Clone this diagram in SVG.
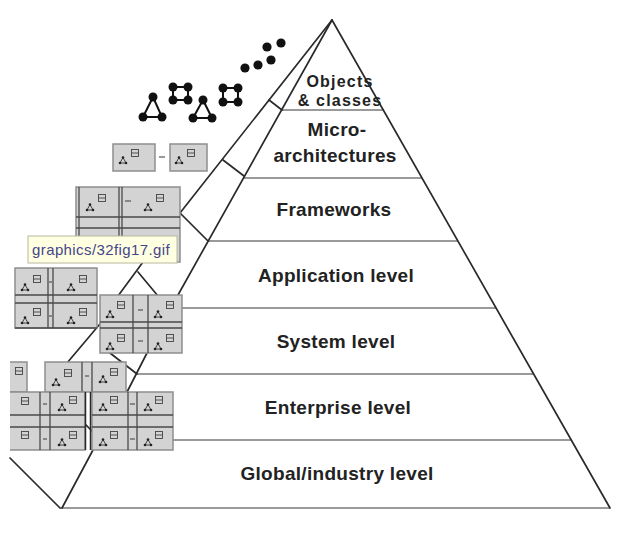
<svg xmlns="http://www.w3.org/2000/svg" xmlns:xlink="http://www.w3.org/1999/xlink" width="622" height="548" viewBox="0 0 622 548">
  <style>
    .box { fill: #d3d3d3; stroke: #8e8e8e; stroke-width: 1.5; }
    .grid { stroke: #4a4a4a; stroke-width: 1.3; fill: none; }
    .dash { stroke: #555; stroke-width: 1.2; }
    .edge { stroke: #2a2a2a; stroke-width: 1.7; fill: none; stroke-linecap: round; }
    .level { stroke: #9a9a9a; stroke-width: 2; fill: none; }
    .label { font-family: "Liberation Sans", Arial, sans-serif; font-weight: bold; font-size: 19px; fill: #222; text-anchor: middle; letter-spacing: 0.3px; }
    .small { font-size: 16px; letter-spacing: 1.2px; }
    .dot { fill: #111; }
    .bond { stroke: #111; stroke-width: 2; }
    .tip { fill: #ffffe1; stroke: #b8b8a0; stroke-width: 1; }
    .tiptext { font-family: "Liberation Sans", Arial, sans-serif; font-size: 15px; fill: #45458c; letter-spacing: 0.4px; }
  </style>
  <defs>
    <!-- tiny pattern icons used inside the cells -->
    <g id="tri">
      <path d="M0,-3.5 L-3,2 L3,2 Z" fill="none" stroke="#333" stroke-width="0.9"/>
      <circle cx="0" cy="-3.5" r="1.3" fill="#222"/>
      <circle cx="-3" cy="2" r="1.3" fill="#222"/>
      <circle cx="3" cy="2" r="1.3" fill="#222"/>
    </g>
    <g id="sq">
      <rect x="-3.5" y="-3.5" width="7" height="7" fill="none" stroke="#444" stroke-width="0.9"/>
      <line x1="-3.5" y1="0" x2="3.5" y2="0" stroke="#444" stroke-width="0.9"/>
    </g>
    <clipPath id="crop">
      <rect x="10" y="0" width="612" height="548"/>
    </clipPath>
  </defs>

  <rect width="622" height="548" fill="#ffffff"/>

  <!-- pyramid outline and connectors -->
  <g id="connectors">
    <line class="level" x1="282" y1="110" x2="384" y2="110"/>
    <line class="level" x1="244" y1="178" x2="422" y2="178"/>
    <line class="level" x1="208" y1="241" x2="458" y2="241"/>
    <line class="level" x1="182" y1="308" x2="496" y2="308"/>
    <line class="level" x1="137" y1="374" x2="534" y2="374"/>
    <line class="level" x1="173" y1="440" x2="571" y2="440"/>
    <line class="level" x1="60" y1="508" x2="610" y2="508"/>

    <line class="edge" x1="332" y1="20" x2="610" y2="508"/>
    <line class="edge" x1="332" y1="20" x2="180" y2="213"/>
    <line class="edge" x1="332" y1="20" x2="178" y2="295"/>

    <line class="edge" x1="269" y1="100" x2="282" y2="110"/>
    <line class="edge" x1="223" y1="160" x2="244" y2="176"/>
    <line class="edge" x1="180" y1="213" x2="208" y2="241"/>

    <line class="edge" x1="143" y1="262" x2="118" y2="296"/>
    <line class="edge" x1="138" y1="272" x2="158" y2="296"/>

    <line class="edge" x1="105" y1="318" x2="67" y2="363"/>
    <line class="edge" x1="110" y1="353" x2="137" y2="374"/>
    <line class="edge" x1="147" y1="353" x2="127" y2="392"/>

    <line class="edge" x1="93" y1="450" x2="62" y2="508"/>
    <line class="edge" x1="10" y1="458" x2="60" y2="508"/>
    <line class="edge" x1="86" y1="425" x2="92" y2="431"/>
  </g>

  <!-- objects: loose dots and small dot groups -->
  <g id="objects">
    <g class="bond">
      <path d="M153,97 L143,117 L162,117 Z" fill="none"/>
      <path d="M203,100 L193,118 L212,118 Z" fill="none"/>
      <path d="M170,87 H191 M170,100 H191 M173,84 V103 M188,84 V103" fill="none"/>
      <path d="M220,88 H241 M220,102 H241 M223,85 V105 M238,85 V105" fill="none"/>
    </g>
    <circle class="dot" cx="153" cy="97" r="4.5"/>
    <circle class="dot" cx="143" cy="117" r="4.5"/>
    <circle class="dot" cx="162" cy="117" r="4.5"/>
    <circle class="dot" cx="173" cy="87" r="4.5"/>
    <circle class="dot" cx="188" cy="87" r="4.5"/>
    <circle class="dot" cx="173" cy="100" r="4.5"/>
    <circle class="dot" cx="188" cy="100" r="4.5"/>
    <circle class="dot" cx="203" cy="100" r="4.5"/>
    <circle class="dot" cx="193" cy="118" r="4.5"/>
    <circle class="dot" cx="212" cy="118" r="4.5"/>
    <circle class="dot" cx="223" cy="88" r="4.5"/>
    <circle class="dot" cx="238" cy="88" r="4.5"/>
    <circle class="dot" cx="223" cy="102" r="4.5"/>
    <circle class="dot" cx="238" cy="102" r="4.5"/>
    <circle class="dot" cx="245" cy="68" r="4.6"/>
    <circle class="dot" cx="258" cy="65" r="4.6"/>
    <circle class="dot" cx="271" cy="60" r="4.6"/>
    <circle class="dot" cx="267" cy="47" r="4.6"/>
    <circle class="dot" cx="281" cy="43" r="4.6"/>
  </g>

  <!-- micro-architecture pair -->
  <g id="micro">
    <rect class="box" x="113" y="144" width="42" height="27"/>
    <use href="#tri" x="123" y="161"/>
    <use href="#sq" x="135" y="153"/>
    <line class="dash" x1="159" y1="157" x2="165" y2="157"/>
    <rect class="box" x="170" y="144" width="37" height="27"/>
    <use href="#tri" x="179" y="161"/>
    <use href="#sq" x="191" y="153"/>
  </g>

  <!-- framework composite -->
  <g id="framework">
    <rect class="box" x="76" y="187" width="104" height="75"/>
    <path class="grid" d="M79,187 V262 M119,187 V262 M122,187 V262 M76,217 H180 M76,228 H180"/>
    <line class="dash" x1="125" y1="201" x2="131" y2="201"/>
    <use href="#tri" x="90" y="208"/>
    <use href="#sq" x="102" y="198"/>
    <use href="#tri" x="148" y="208"/>
    <use href="#sq" x="160" y="198"/>
    <use href="#tri" x="90" y="250"/>
    <use href="#sq" x="102" y="241"/>
    <use href="#tri" x="148" y="250"/>
    <use href="#sq" x="160" y="241"/>
  </g>

  <!-- application composite -->
  <g id="application">
    <rect class="box" x="15" y="268" width="82" height="60"/>
    <path class="grid" d="M48,268 V328 M53,268 V328 M15,295 H97 M15,303 H97 M15,328 H97"/>
    <line class="dash" x1="49" y1="282" x2="52" y2="282"/>
    <line class="dash" x1="49" y1="316" x2="52" y2="316"/>
    <use href="#tri" x="25" y="288"/>
    <use href="#sq" x="37" y="279"/>
    <use href="#tri" x="71" y="288"/>
    <use href="#sq" x="83" y="279"/>
    <use href="#tri" x="25" y="321"/>
    <use href="#sq" x="37" y="312"/>
    <use href="#tri" x="71" y="321"/>
    <use href="#sq" x="83" y="312"/>
  </g>

  <!-- system composite -->
  <g id="system">
    <rect class="box" x="100" y="295" width="82" height="58"/>
    <path class="grid" d="M133,295 V353 M148,295 V353 M100,322 H182 M100,328 H182"/>
    <line class="dash" x1="138" y1="310" x2="143" y2="310"/>
    <line class="dash" x1="138" y1="341" x2="143" y2="341"/>
    <use href="#tri" x="110" y="315"/>
    <use href="#sq" x="121" y="305"/>
    <use href="#tri" x="158" y="315"/>
    <use href="#sq" x="170" y="305"/>
    <use href="#tri" x="110" y="347"/>
    <use href="#sq" x="121" y="338"/>
    <use href="#tri" x="158" y="347"/>
    <use href="#sq" x="170" y="338"/>
  </g>

  <!-- enterprise composite -->
  <g id="enterprise" clip-path="url(#crop)">
    <rect class="box" x="2" y="362" width="25" height="30"/>
    <use href="#sq" x="19" y="371"/>
    <rect class="box" x="45" y="362" width="81" height="30"/>
    <path class="grid" d="M82,362 V392 M92,362 V392"/>
    <line class="dash" x1="85" y1="376" x2="89" y2="376"/>
    <use href="#tri" x="56" y="383"/>
    <use href="#sq" x="68" y="373"/>
    <use href="#tri" x="103" y="380"/>
    <use href="#sq" x="114" y="372"/>

    <rect class="box" x="2" y="392" width="83" height="58"/>
    <path class="grid" d="M40,392 V450 M50,392 V450 M2,415 H85 M2,427 H85"/>
    <line class="dash" x1="43" y1="404" x2="47" y2="404"/>
    <line class="dash" x1="43" y1="439" x2="47" y2="439"/>
    <use href="#sq" x="25" y="401"/>
    <use href="#tri" x="62" y="408"/>
    <use href="#sq" x="73" y="400"/>
    <use href="#sq" x="25" y="435"/>
    <use href="#tri" x="62" y="443"/>
    <use href="#sq" x="73" y="435"/>

    <rect class="box" x="92" y="392" width="81" height="58"/>
    <path class="grid" d="M128,392 V450 M137,392 V450 M92,415 H173 M92,427 H173"/>
    <line class="dash" x1="130" y1="404" x2="135" y2="404"/>
    <line class="dash" x1="130" y1="439" x2="135" y2="439"/>
    <use href="#tri" x="103" y="408"/>
    <use href="#sq" x="114" y="400"/>
    <use href="#tri" x="148" y="408"/>
    <use href="#sq" x="159" y="400"/>
    <use href="#tri" x="103" y="443"/>
    <use href="#sq" x="114" y="435"/>
    <use href="#tri" x="148" y="443"/>
    <use href="#sq" x="159" y="435"/>

    <path d="M85.5,392 V450 M90.5,392 V450" stroke="#2a2a2a" stroke-width="1.5" fill="none"/>
  </g>

  <!-- level labels -->
  <g id="labels">
    <text class="label small" x="340" y="87">Objects</text>
    <text class="label small" x="340" y="106">&amp; classes</text>
    <text class="label" x="337" y="136">Micro-</text>
    <text class="label" x="335" y="162">architectures</text>
    <text class="label" x="334" y="216">Frameworks</text>
    <text class="label" x="336" y="282">Application level</text>
    <text class="label" x="336" y="348">System level</text>
    <text class="label" x="338" y="414">Enterprise level</text>
    <text class="label" x="337" y="480">Global/industry level</text>
  </g>

  <!-- hover tooltip -->
  <g id="tooltip">
    <rect class="tip" x="28" y="236" width="149" height="27"/>
    <text class="tiptext" x="32" y="255">graphics/32fig17.gif</text>
  </g>
</svg>
